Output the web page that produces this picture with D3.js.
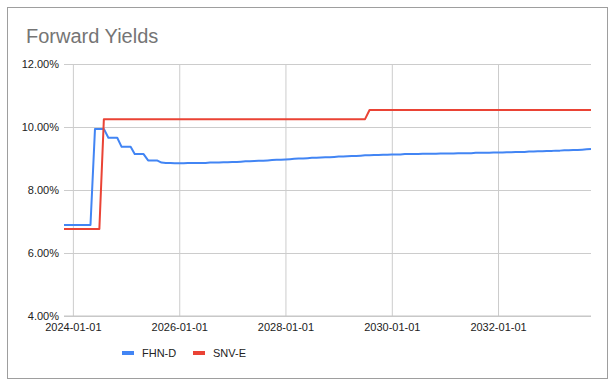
<!DOCTYPE html>
<html>
<head>
<meta charset="utf-8">
<script src="https://cdn.jsdelivr.net/npm/d3@7"></script>
<style>
  body { margin: 0; background: #fff; }
  svg { display: block; font-family: "Liberation Sans", Arial, sans-serif; }
</style>
</head>
<body>
<svg width="611" height="386"></svg>
<script>
// monthly points, first one is 2023-11-01
var startMonth = "2023-11-01";

var fhnD = [
  6.89, 6.89, 6.89, 6.89, 6.89, 6.89, 6.89,
  9.94, 9.94, 9.94,
  9.66, 9.66, 9.66,
  9.37, 9.37, 9.37,
  9.14, 9.14, 9.14,
  8.94, 8.94, 8.94,
  8.87, 8.86, 8.86, 8.85, 8.85, 8.85, 8.86, 8.86, 8.86, 8.86, 8.86, 8.87, 8.87, 8.87, 8.88, 8.88,
  8.89, 8.89, 8.90, 8.91, 8.91, 8.92, 8.93, 8.93, 8.94, 8.95, 8.96, 8.96,
  8.97, 8.98, 8.99, 9.00, 9.00, 9.01, 9.02, 9.02, 9.03, 9.04, 9.04, 9.05,
  9.06, 9.06, 9.07, 9.08, 9.08, 9.09, 9.10, 9.10, 9.11, 9.11, 9.12, 9.12,
  9.13, 9.13, 9.13, 9.14, 9.14, 9.14, 9.14, 9.15, 9.15, 9.15, 9.15, 9.16,
  9.16, 9.16, 9.16, 9.17, 9.17, 9.17, 9.17, 9.18, 9.18, 9.18, 9.18, 9.19,
  9.19, 9.19, 9.20, 9.20, 9.21, 9.21, 9.21, 9.22, 9.22, 9.23, 9.23, 9.24,
  9.24, 9.25, 9.25, 9.26, 9.26, 9.27, 9.27, 9.28, 9.29, 9.30
];

var snvE = [
  6.76, 6.76, 6.76, 6.76, 6.76, 6.76, 6.76, 6.76, 6.76,
  10.25, 10.25, 10.25, 10.25, 10.25, 10.25, 10.25, 10.25, 10.25, 10.25,
  10.25, 10.25, 10.25, 10.25, 10.25, 10.25, 10.25, 10.25, 10.25, 10.25,
  10.25, 10.25, 10.25, 10.25, 10.25, 10.25, 10.25, 10.25, 10.25, 10.25,
  10.25, 10.25, 10.25, 10.25, 10.25, 10.25, 10.25, 10.25, 10.25, 10.25,
  10.25, 10.25, 10.25, 10.25, 10.25, 10.25, 10.25, 10.25, 10.25, 10.25,
  10.25, 10.25, 10.25, 10.25, 10.25, 10.25, 10.25, 10.25, 10.25, 10.25,
  10.54, 10.54, 10.54, 10.54, 10.54, 10.54, 10.54, 10.54, 10.54, 10.54,
  10.54, 10.54, 10.54, 10.54, 10.54, 10.54, 10.54, 10.54, 10.54, 10.54,
  10.54, 10.54, 10.54, 10.54, 10.54, 10.54, 10.54, 10.54, 10.54, 10.54,
  10.54, 10.54, 10.54, 10.54, 10.54, 10.54, 10.54, 10.54, 10.54, 10.54,
  10.54, 10.54, 10.54, 10.54, 10.54, 10.54, 10.54, 10.54, 10.54, 10.54,
  10.54
];

var seriesNames = ["FHN-D", "SNV-E"];
var seriesColors = ["#4285f4", "#ea4335"];
var yTicks = [4, 6, 8, 10, 12];
var xTicks = ["2024-01-01", "2026-01-01", "2028-01-01", "2030-01-01", "2032-01-01"];

var svg = d3.select("svg"),
  width = +svg.attr("width"),
  height = +svg.attr("height");

var parse = d3.timeParse("%Y-%m-%d");
var fmt = d3.timeFormat("%Y-%m-%d");
var t0 = parse(startMonth);
var dates = fhnD.map(function(v, i) { return d3.timeMonth.offset(t0, i); });

var x = d3.scaleTime()
  .domain([dates[0], dates[dates.length - 1]])
  .range([64, 591]);

var y = d3.scaleLinear()
  .domain([4, 12])
  .range([316, 64]);

// frame
svg.append("rect")
  .attr("x", 7.5).attr("y", 7.5)
  .attr("width", 600).attr("height", 371)
  .attr("fill", "#fff")
  .attr("stroke", "#9e9e9e");

svg.append("text")
  .attr("x", 26).attr("y", 43)
  .attr("fill", "#757575")
  .style("font-size", "20px")
  .text("Forward Yields");

// horizontal grid + y labels
var yAxis = d3.axisLeft(y)
  .tickValues(yTicks)
  .tickSize(-(591 - 64))
  .tickPadding(6)
  .tickFormat(function(d) { return d.toFixed(2) + "%"; });

var gy = svg.append("g")
  .attr("transform", "translate(64,0)")
  .call(yAxis);
gy.select(".domain").remove();
gy.selectAll("line").attr("stroke", "#cccccc");
gy.selectAll("text")
  .attr("fill", "#222")
  .style("font-size", "11px")
  .attr("x", -5);

// vertical grid + x labels
var xAxis = d3.axisBottom(x)
  .tickValues(xTicks.map(parse))
  .tickSize(-(316 - 64))
  .tickPadding(6)
  .tickFormat(fmt);

var gx = svg.append("g")
  .attr("transform", "translate(0,316)")
  .call(xAxis);
gx.select(".domain").remove();
gx.selectAll("line").attr("stroke", "#cccccc");
gx.selectAll("text")
  .attr("fill", "#222")
  .style("font-size", "11px")
  .attr("y", 7)
  .attr("dy", "0.71em");

// bottom baseline a bit darker
svg.append("line")
  .attr("x1", 64).attr("x2", 591)
  .attr("y1", y(4)).attr("y2", y(4))
  .attr("stroke", "#c4c4c4");

var line = d3.line()
  .x(function(d, i) { return x(dates[i]); })
  .y(function(d) { return y(d); });

[fhnD, snvE].forEach(function(s, k) {
  svg.append("path")
    .datum(s)
    .attr("fill", "none")
    .attr("stroke", seriesColors[k])
    .attr("stroke-width", 2)
    .attr("stroke-linejoin", "round")
    .attr("d", line);
});

// legend
var legendX = [122, 193];
var legend = svg.append("g")
  .selectAll("g")
  .data(seriesNames)
  .enter().append("g")
  .attr("transform", function(d, i) { return "translate(" + legendX[i] + ",353)"; });

legend.append("rect")
  .attr("x", 0).attr("y", -2)
  .attr("width", 12).attr("height", 4)
  .attr("fill", function(d, i) { return seriesColors[i]; });

legend.append("text")
  .attr("x", 20).attr("y", 4)
  .attr("fill", "#222")
  .style("font-size", "11px")
  .text(function(d) { return d; });
</script>
</body>
</html>
